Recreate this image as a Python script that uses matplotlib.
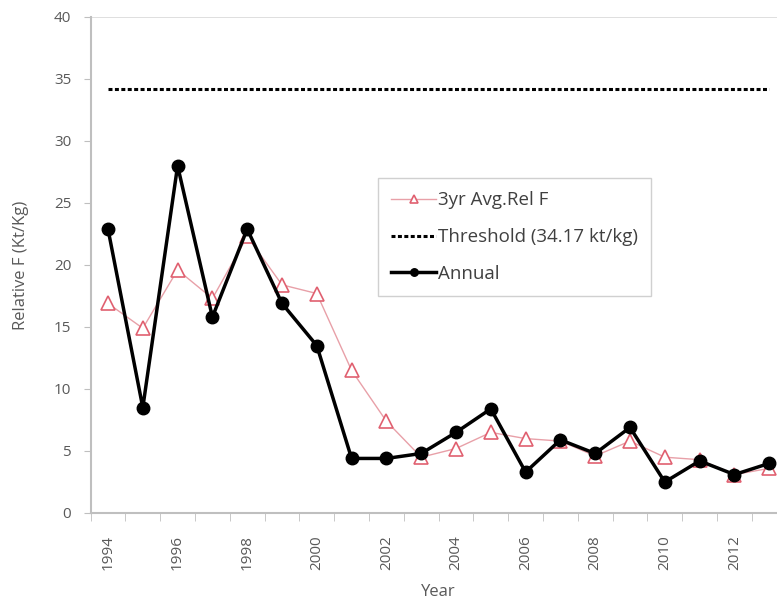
import numpy as np
import matplotlib
matplotlib.use("Agg")
import matplotlib.pyplot as plt

plt.rcParams['font.family'] = ['Open Sans', 'DejaVu Sans']

years = list(range(1994, 2014))
annual = [22.9, 8.5, 28.0, 15.8, 22.9, 16.9, 13.5, 4.4, 4.4, 4.8,
          6.5, 8.4, 3.3, 5.9, 4.8, 6.9, 2.5, 4.2, 3.1, 4.0]
avg3 = [16.9, 14.9, 19.6, 17.3, 22.3, 18.4, 17.7, 11.5, 7.4, 4.5,
        5.2, 6.5, 6.0, 5.8, 4.6, 5.8, 4.5, 4.3, 3.1, 3.6]
threshold = 34.17

gray = '#595959'
x = np.arange(len(years))

fig = plt.figure(figsize=(7.77, 6.04), dpi=100)
ax = fig.add_axes([90.6/777, 91/604, 696/777, 496/604])

ax.plot(x, avg3, color='#e8a0a8', lw=1, marker='^', ms=10, mfc='white',
        mec='#e06070', mew=1.2, label='3yr Avg.Rel F', zorder=2)
ax.plot(x, [threshold]*len(x), color='black', ls=(0, (1.3, 0.8)), lw=2.2,
        label='Threshold (34.17 kt/kg)', zorder=3)
ax.plot(x, annual, color='black', lw=2.5, marker='o', ms=9,
        label='Annual', zorder=4)

ax.set_xlim(-0.5, len(years) - 0.5)
ax.set_ylim(0, 40)
ax.set_yticks(range(0, 41, 5))
ax.set_xticks(x[::2])
ax.set_xticklabels([str(y) for y in years[::2]], rotation=90)
ax.set_xticks(np.arange(-0.5, len(years), 1), minor=True)
ax.tick_params(axis='x', which='major', length=0, pad=16, labelsize=11, labelcolor=gray)
ax.tick_params(axis='x', which='minor', length=6, color='#bfbfbf', direction='out')
ax.tick_params(axis='y', length=5, color='#bfbfbf', labelsize=11, labelcolor=gray, pad=9)

ax.axhline(40, color='#d9d9d9', lw=1.2, zorder=1)
for s in ['top', 'right']:
    ax.spines[s].set_visible(False)
for s in ['left', 'bottom']:
    ax.spines[s].set_color('#bfbfbf')
    ax.spines[s].set_linewidth(1.5)

ax.set_xlabel('Year', fontsize=12, color=gray, labelpad=10)
ax.set_ylabel('Relative F (Kt/Kg)', fontsize=12, color=gray, labelpad=18)

leg = ax.legend(loc='upper left', bbox_to_anchor=(0.413, 0.675), fontsize=13.5,
                handlelength=2.4, handletextpad=0.1, borderpad=0.7,
                borderaxespad=0, labelspacing=1.0, markerscale=0.6,
                fancybox=False, framealpha=1)
leg.get_frame().set_edgecolor('#d0d0d0')
for t in leg.get_texts():
    t.set_color('#404040')

fig.savefig('out.png', dpi=100)
